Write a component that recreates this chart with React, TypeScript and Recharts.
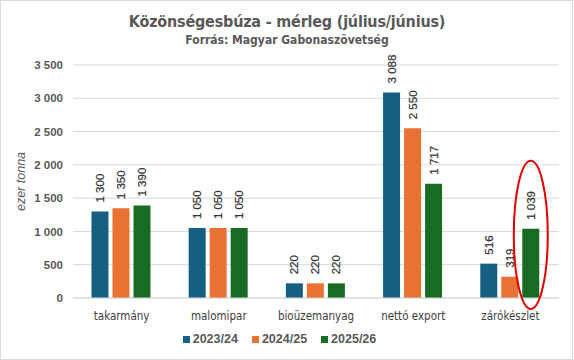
import React from 'react';
import { BarChart, Bar, XAxis, YAxis, CartesianGrid, Legend, LabelList } from 'recharts';

const categories = ['takarmány', 'malomipar', 'bioüzemanyag', 'nettó export', 'zárókészlet'];
const series2023 = [1300, 1050, 220, 3088, 516];
const series2024 = [1350, 1050, 220, 2550, 319];
const series2025 = [1390, 1050, 220, 1717, 1039];
const seriesNames = ['2023/24', '2024/25', '2025/26'];
const yTicks = [0, 500, 1000, 1500, 2000, 2500, 3000, 3500];
const highlightIndex = 4;

const colors = ['#156082', '#E97132', '#196B24'];

const data = categories.map((c, i) => ({
  name: c,
  s1: series2023[i],
  s2: series2024[i],
  s3: series2025[i],
}));

const fmt = (n: number) => {
  if (n >= 1000) {
    return `${Math.floor(n / 1000)} ${String(n % 1000).padStart(3, '0')}`;
  }
  return String(n);
};

const LabelRot = (props: any) => {
  const { x, y, width, value } = props;
  const cx = x + width / 2;
  const ty = y - 9;
  return (
    <text
      x={cx}
      y={ty}
      transform={`rotate(-90 ${cx} ${ty})`}
      textAnchor="start"
      dominantBaseline="central"
      fontFamily="Liberation Sans, Arial, sans-serif"
      fontSize={11.5}
      fill="#333333"
      stroke="#333333"
      strokeWidth={0.2}
    >
      {fmt(value)}
    </text>
  );
};

const LabelRotHighlight = (props: any) => {
  const { x, y, width, height, index } = props;
  const base = <LabelRot {...props} />;
  if (index !== highlightIndex) return base;
  const cx = x + width / 2;
  const top = y - 68;
  const bottom = y + height + 11;
  return (
    <g>
      {base}
      <ellipse
        cx={cx}
        cy={(top + bottom) / 2}
        rx={width / 2 + 8.5}
        ry={(bottom - top) / 2}
        fill="none"
        stroke="#E00000"
        strokeWidth={2}
      />
    </g>
  );
};

const LegendContent = () => (
  <div style={{ display: 'flex', justifyContent: 'center', gap: 14, fontFamily: 'Liberation Sans, Arial, sans-serif', fontSize: 12.5, fontWeight: 600, color: '#595959' }}>
    {seriesNames.map((n, i) => (
      <div key={n} style={{ display: 'flex', alignItems: 'center', gap: 3 }}>
        <span style={{ display: 'inline-block', width: 7, height: 7, background: colors[i] }} />
        <span>{n}</span>
      </div>
    ))}
  </div>
);

export default function App() {
  return (
    <div style={{ position: 'fixed', left: 0, top: 0, width: 574, height: 360, background: '#fff' }}>
      <div style={{ position: 'absolute', left: 0, top: 0, width: 571, height: 358, border: '1px solid #d9d9d9' }} />
      <div style={{ position: 'absolute', left: 0, top: 12, width: 574, textAlign: 'center', fontFamily: 'DejaVu Sans Condensed, sans-serif', fontWeight: 700, fontSize: 16, color: '#595959', letterSpacing: -0.2 }}>
        Közönségesbúza - mérleg (július/június)
      </div>
      <div style={{ position: 'absolute', left: 0, top: 33, width: 574, textAlign: 'center', fontFamily: 'DejaVu Sans Condensed, sans-serif', fontWeight: 700, fontSize: 12, color: '#595959' }}>
        Forrás:  Magyar Gabonaszövetség
      </div>
      <div style={{ position: 'absolute', left: 0, top: 0 }}>
        <BarChart
          width={574}
          height={360}
          data={data}
          margin={{ top: 65, right: 15, bottom: 8, left: 0 }}
          barCategoryGap="19%"
          barGap={4}
        >
          <CartesianGrid vertical={false} stroke="#d9d9d9" />
          <XAxis
            dataKey="name"
            axisLine={{ stroke: '#d9d9d9' }}
            tickLine={false}
            tickMargin={8}
            height={34}
            tick={{ fontFamily: 'DejaVu Sans Condensed, sans-serif', fontSize: 11.5, fill: '#404040' }}
          />
          <YAxis
            domain={[0, 3500]}
            ticks={yTicks}
            width={73}
            axisLine={false}
            tickLine={false}
            tickSize={0}
            tickMargin={10}
            tickFormatter={fmt}
            tick={{ fontFamily: 'Liberation Sans, Arial, sans-serif', fontSize: 11.5, fontWeight: 600, fill: '#595959' }}
            label={{ value: 'ezer tonna', angle: -90, position: 'insideLeft', offset: 21, style: { fontFamily: 'Liberation Sans, Arial, sans-serif', fontStyle: 'italic', fontSize: 12.5, fill: '#595959', textAnchor: 'middle' } }}
          />
          <Legend verticalAlign="bottom" height={20} content={<LegendContent />} />
          <Bar dataKey="s1" name={seriesNames[0]} fill={colors[0]} isAnimationActive={false}>
            <LabelList dataKey="s1" content={<LabelRot />} />
          </Bar>
          <Bar dataKey="s2" name={seriesNames[1]} fill={colors[1]} isAnimationActive={false}>
            <LabelList dataKey="s2" content={<LabelRot />} />
          </Bar>
          <Bar dataKey="s3" name={seriesNames[2]} fill={colors[2]} isAnimationActive={false}>
            <LabelList dataKey="s3" content={<LabelRotHighlight />} />
          </Bar>
        </BarChart>
      </div>
    </div>
  );
}
